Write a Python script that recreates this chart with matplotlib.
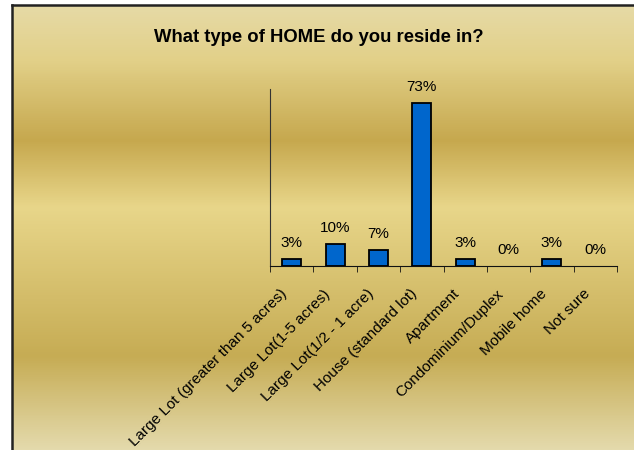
import numpy as np
import matplotlib
matplotlib.use("Agg")
import matplotlib.pyplot as plt
from matplotlib.colors import LinearSegmentedColormap
from matplotlib.ticker import FixedLocator
from matplotlib.transforms import ScaledTranslation

plt.rcParams['font.family'] = ['Liberation Sans', 'DejaVu Sans']

title = "What type of HOME do you reside in?"
categories = ["Large Lot (greater than 5 acres)", "Large Lot(1-5 acres)",
              "Large Lot(1/2 - 1 acre)", "House (standard lot)", "Apartment",
              "Condominium/Duplex", "Mobile home", "Not sure"]
values = [3, 10, 7, 73, 3, 0, 3, 0]
value_labels = ["3%", "10%", "7%", "73%", "3%", "0%", "3%", "0%"]

W, H = 634, 450
fig = plt.figure(figsize=(W / 100, H / 100), dpi=100)
fig.patch.set_facecolor('white')

# gradient background
bg = fig.add_axes([12 / W, 0, 1 - 12 / W, (H - 5) / H], zorder=0)
stops = [(0.0, (230, 218, 166)), (55 / 445, (226, 208, 136)), (135 / 445, (198, 168, 78)),
         (202 / 445, (232, 214, 138)), (352 / 445, (198, 172, 84)), (1.0, (228, 218, 172))]
cmap = LinearSegmentedColormap.from_list('bg', [(p, tuple(c / 255 for c in col)) for p, col in stops])
grad = np.linspace(0, 1, 500).reshape(-1, 1)
bg.imshow(grad, aspect='auto', cmap=cmap, extent=[0, 1, 1, 0])
bg.set_axis_off()

# border lines (left and top)
fig.add_artist(plt.Line2D([11.5 / W, 11.5 / W], [0, 1 - 4.5 / H], color='#222', lw=1.8, transform=fig.transFigure))
fig.add_artist(plt.Line2D([11.5 / W, 1], [1 - 4.5 / H, 1 - 4.5 / H], color='#222', lw=1.8, transform=fig.transFigure))

fig.text(319 / W, 1 - 38 / H, title, ha='center', va='center', fontsize=13.3, fontweight='bold')

ax = fig.add_axes([270 / W, 1 - 266 / H, (617 - 270) / W, (266 - 89) / H], zorder=2)
ax.patch.set_alpha(0)
x = np.arange(len(categories))
edge_w = [1.3 if v > 0 else 0 for v in values]
ax.bar(x, values, width=0.44, color='#0066CC', edgecolor='black', linewidth=edge_w)
for xi, v, lab in zip(x, values, value_labels):
    ax.annotate(lab, (xi, v), xytext=(0, 6.5), textcoords='offset points',
                ha='center', va='bottom', fontsize=11)
ax.set_xlim(-0.5, len(categories) - 0.5)
ax.set_ylim(0, 79.3)
for s in ['top', 'right']:
    ax.spines[s].set_visible(False)
ax.spines['left'].set_color('#333')
ax.spines['bottom'].set_color('#111')
ax.set_yticks([])
ax.set_xticks(x)
ax.set_xticklabels(categories, rotation=45, ha='right', va='top', rotation_mode='anchor', fontsize=11)
ax.tick_params(axis='x', which='major', length=0, pad=15)
shift = ScaledTranslation(-12 / 100, 0, fig.dpi_scale_trans)
for t in ax.get_xticklabels():
    t.set_transform(t.get_transform() + shift)
ax.xaxis.set_minor_locator(FixedLocator(np.arange(-0.5, len(categories), 1.0)))
ax.tick_params(axis='x', which='minor', length=4, direction='out', color='#111')

fig.savefig('out.png', dpi=100)
